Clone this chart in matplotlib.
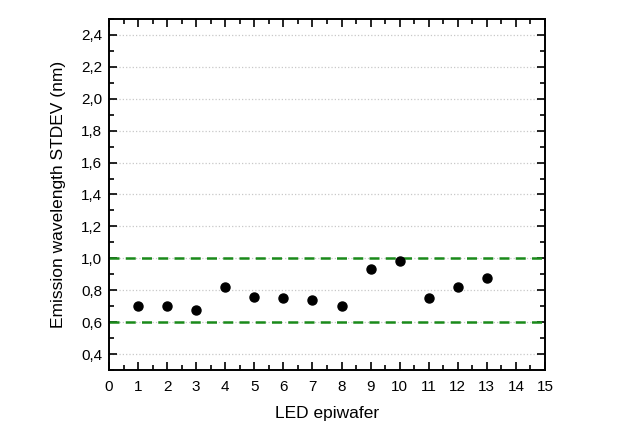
import numpy as np
import matplotlib.pyplot as plt
from matplotlib.ticker import MultipleLocator, FuncFormatter

plt.rcParams['font.family'] = ['Liberation Sans', 'DejaVu Sans']

# 데이터
wafer = [1, 2, 3, 4, 5, 6, 7, 8, 9, 10, 11, 12, 13]
stdev = [0.70, 0.70, 0.675, 0.82, 0.757, 0.75, 0.74, 0.70, 0.93, 0.985, 0.75, 0.82, 0.874]
limits = [0.6, 1.0]

fig = plt.figure(figsize=(6.3, 4.4), dpi=100)
ax = fig.add_axes([0.173, 0.159, 0.692, 0.798])

ax.plot(wafer, stdev, 'o', color='black', markersize=6.5, zorder=3)
for lim in limits:
    ax.axhline(lim, color='#1a8a1a', linestyle=(0, (4, 2.5)), linewidth=1.8, zorder=2)

ax.set_xlim(0, 15)
ax.set_ylim(0.3, 2.5)
ax.xaxis.set_major_locator(MultipleLocator(1))
ax.xaxis.set_minor_locator(MultipleLocator(0.5))
ax.yaxis.set_major_locator(MultipleLocator(0.2))
ax.yaxis.set_minor_locator(MultipleLocator(0.1))
ax.yaxis.set_major_formatter(FuncFormatter(lambda v, p: f"{v:.1f}".replace('.', ',')))

ax.tick_params(which='both', direction='in', top=True, right=True, width=1.2, labelsize=11, colors='black')
ax.tick_params(which='major', length=6)
ax.tick_params(which='minor', length=3.5)
ax.tick_params(axis='x', which='major', pad=7)
ax.tick_params(axis='y', which='major', pad=5)
for s in ax.spines.values():
    s.set_linewidth(1.4)

ax.grid(True, axis='y', which='major', linestyle=':', color='#c8c8c8', linewidth=0.9)
ax.set_axisbelow(True)

ax.set_xlabel('LED epiwafer', fontsize=12.5, labelpad=9)
ax.set_ylabel('Emission wavelength STDEV (nm)', fontsize=12.5, labelpad=11)

fig.savefig('out.png', dpi=100)
